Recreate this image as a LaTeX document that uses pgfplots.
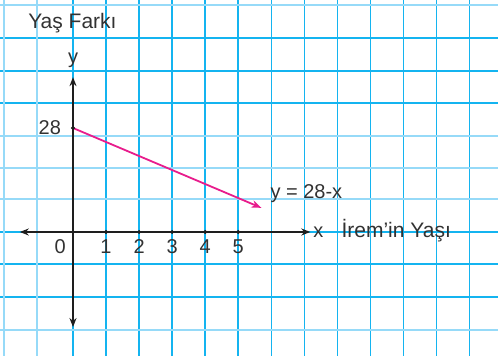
\documentclass[border=0pt]{standalone}
\usepackage{pgfplots}
\pgfplotsset{compat=1.18}
\usepackage{fontspec}
\setmainfont{Liberation Sans}
\usetikzlibrary{arrows.meta}
\definecolor{gridblue}{RGB}{20,180,240}
\definecolor{gridlight}{RGB}{150,218,248}
\definecolor{txt}{RGB}{50,50,50}
\definecolor{axk}{RGB}{30,30,30}
\definecolor{pinkline}{RGB}{232,28,140}
\begin{document}
\begin{tikzpicture}
\begin{axis}[
  name=ax,
  scale only axis,
  width=498bp, height=356bp,
  xmin=-2.209, xmax=12.859,
  ymin=-33.39, ymax=62.47,
  axis line style={draw=none},
  major tick length=0pt,
  xtick={0,1,2,3,4,5,6,7,8,9,10,11,12},
  ytick={52.23,43.35,34.73,0,-8.62,-17.50},
  extra x ticks={-2.088,-1.089},
  extra y ticks={61.12,25.85,17.23,8.89,-26.39},
  xticklabels={}, yticklabels={},
  extra x tick labels={}, extra y tick labels={},
  grid=major,
  major grid style={gridblue, line width=1.6bp},
  extra tick style={major grid style={gridlight, line width=2.5bp}},
  clip=false,
]
% axes
\draw[axk, line width=1.6bp, {Stealth[length=9bp,width=7bp]}-{Stealth[length=9bp,width=7bp]}]
  (axis cs:-1.61,0) -- (axis cs:7.18,0);
\draw[axk, line width=1.6bp, {Stealth[length=9bp,width=7bp]}-{Stealth[length=9bp,width=7bp]}]
  (axis cs:0,-25.6) -- (axis cs:0,41.7);
% tick dots
\addplot[only marks, mark=*, mark size=1.8bp, color=axk] coordinates {(1,0) (2,0) (3,0) (4,0) (5,0) (0,28)};
% the line y = 28 - x
\addplot[pinkline, line width=1.8bp, -{Stealth[length=10bp,width=7.5bp]}] coordinates {(0,28) (5.7,6.5)};
% labels
\begin{scope}[every node/.style={text=txt, inner sep=0pt}]
\node[anchor=base west, font=\fontsize{21bp}{24bp}\selectfont] at (axis cs:-1.36,54.7) {Yaş Farkı};
\node[anchor=base, font=\fontsize{20bp}{24bp}\selectfont] at (axis cs:0,45.5) {y};
\node[anchor=east, font=\fontsize{20bp}{24bp}\selectfont] at (axis cs:-0.36,28) {28};
\node[font=\fontsize{20bp}{24bp}\selectfont] at (axis cs:-0.39,-3.95) {0};
\node[font=\fontsize{20bp}{24bp}\selectfont] at (axis cs:1,-3.95) {1};
\node[font=\fontsize{20bp}{24bp}\selectfont] at (axis cs:2,-3.95) {2};
\node[font=\fontsize{20bp}{24bp}\selectfont] at (axis cs:3,-3.95) {3};
\node[font=\fontsize{20bp}{24bp}\selectfont] at (axis cs:4,-3.95) {4};
\node[font=\fontsize{20bp}{24bp}\selectfont] at (axis cs:5,-3.95) {5};
\node[anchor=base west, font=\fontsize{20bp}{24bp}\selectfont] at (axis cs:7.27,-1.6) {x};
\node[anchor=base west, font=\fontsize{21bp}{24bp}\selectfont] at (axis cs:8.12,-1.6) {İrem'in Yaşı};
\node[anchor=base west, font=\fontsize{20bp}{24bp}\selectfont] at (axis cs:5.97,9.15) {y = 28-x};
\end{scope}
\end{axis}
\pgfresetboundingbox
\path[use as bounding box] (ax.south west) rectangle (ax.north east);
\end{tikzpicture}
\end{document}
